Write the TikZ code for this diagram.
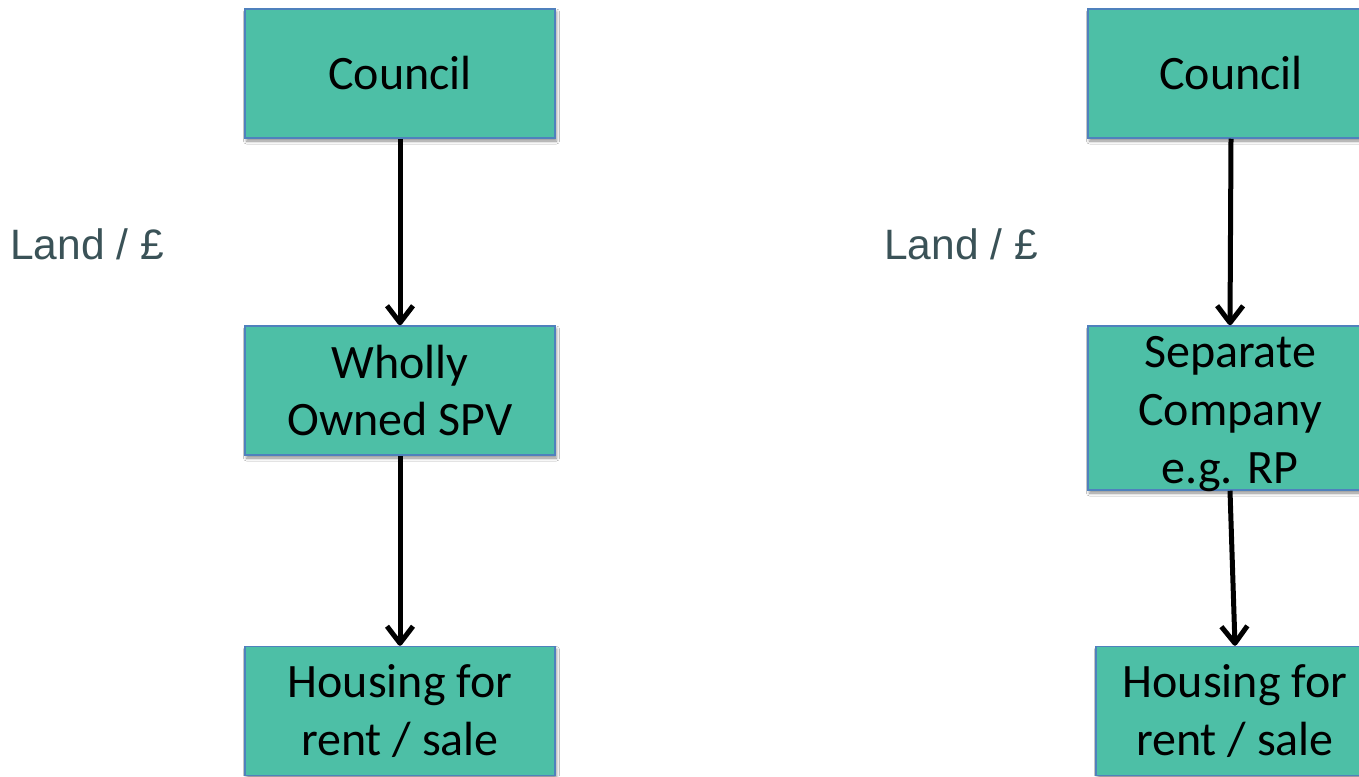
\documentclass[tikz,border=0pt]{standalone}
\usepackage{fontspec}
\setmainfont{Carlito}
\newfontfamily\landfont{Liberation Sans}
\usetikzlibrary{arrows.meta,shadows.blur}
\definecolor{boxfill}{RGB}{77,191,166}
\definecolor{boxline}{RGB}{79,129,189}
\definecolor{landtext}{RGB}{58,82,87}
\tikzset{
  orgbox/.style={draw=boxline, line width=1.5pt, fill=boxfill,
    minimum height=129pt, inner sep=0pt, align=center,
    font=\fontsize{48}{57.6}\selectfont,
    blur shadow={shadow xshift=1.5pt, shadow yshift=-3pt,
      shadow blur radius=3pt, shadow opacity=45}},
  boxtext/.style={inner sep=0pt, align=center,
    font=\fontsize{48}{57.6}\selectfont},
  flow/.style={line width=5pt, line join=round,
    -{Straight Barb[length=17pt,width=26pt,line join=round]}},
  landlabel/.style={anchor=base west, inner sep=0pt, text=landtext,
    font=\landfont\fontsize{42.5}{50}\selectfont}
}
\begin{document}
\begin{tikzpicture}[x=1pt, y=-1pt]
  \useasboundingbox (0,0) rectangle (1359,776);
  \clip (0,0) rectangle (1359,776);
  \fill[white] (0,0) rectangle (1359,776);

  % wholly owned route
  \node[orgbox, minimum width=310pt] (council1) at (400,73.5) {Council};
  \node[orgbox, minimum width=310pt] (spv) at (400,390.5) {Wholly\\Owned SPV};
  \node[orgbox, minimum width=310pt] (house1) at (400,711) {Housing for\\rent / sale};
  \draw[flow] (council1.south) -- (spv.north);
  \draw[flow] (spv.south) -- (house1.north);
  \node[landlabel] (land1) at (10,259) {Land / £};

  % separate company route
  \node[orgbox, minimum width=286pt] (council2) at (1231,73.5) {Council};
  \node[orgbox, minimum width=284pt, minimum height=164pt] (sep) at (1230,408) {};
  \node[boxtext] (septext) at (1230,414) {Separate\\Company\\e.g. RP};
  \node[orgbox, minimum width=278pt] (house2) at (1235,711) {Housing for\\rent / sale};
  \draw[flow] (council2.south) -- (sep.north);
  \draw[flow] (sep.south) -- (house2.north);
  \node[landlabel] (land2) at (884,259) {Land / £};
\end{tikzpicture}
\end{document}
